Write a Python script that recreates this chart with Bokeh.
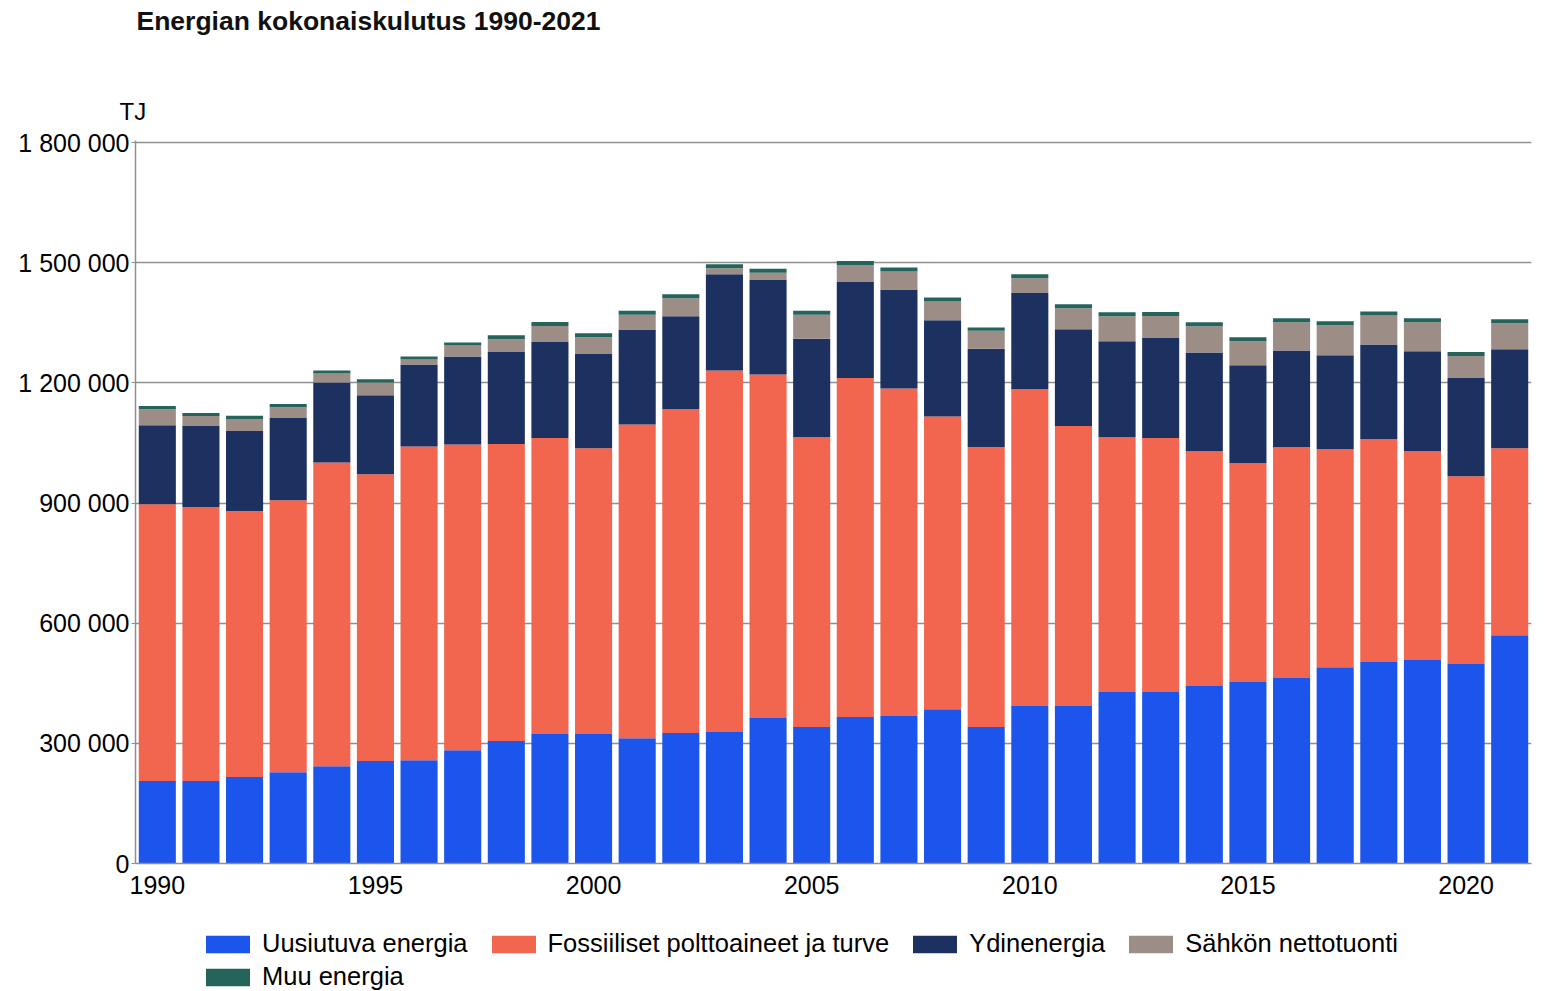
from bokeh.plotting import figure
from bokeh.layouts import column
from bokeh.models import ColumnDataSource, Range1d, FixedTicker, Legend, LegendItem, Label, Title
from bokeh.embed import file_html
from bokeh.resources import INLINE

years = list(range(1990, 2022))
# thousand TJ
uusiutuva = [206, 206, 216, 228, 243, 256, 258, 283, 306, 323, 323, 313, 326, 328, 363, 341,
             366, 368, 385, 341, 393, 393, 428, 428, 443, 453, 463, 490, 503, 508, 498, 570]
fossiiliset = [691, 684, 664, 679, 758, 716, 783, 763, 741, 739, 714, 783, 808, 903, 858, 724,
               846, 818, 731, 699, 791, 699, 636, 634, 586, 546, 576, 544, 556, 521, 469, 467]
ydinenergia = [197, 202, 200, 205, 200, 197, 205, 220, 230, 240, 235, 237, 232, 240, 237, 245,
               240, 247, 240, 245, 240, 242, 240, 250, 247, 245, 242, 235, 237, 250, 245, 247]
tuonti = [40, 25, 30, 27, 22, 32, 12, 27, 32, 40, 42, 37, 45, 15, 17, 60,
          42, 45, 47, 45, 37, 52, 62, 55, 65, 60, 70, 75, 72, 72, 55, 65]
muu = [8, 8, 8, 8, 8, 8, 8, 8, 10, 10, 10, 10, 10, 10, 10, 10,
       10, 10, 10, 8, 10, 10, 10, 10, 10, 10, 10, 10, 10, 10, 10, 10]

series_names = ["Uusiutuva energia", "Fossiiliset polttoaineet ja turve", "Ydinenergia",
                "Sähkön nettotuonti", "Muu energia"]
colors = ["#1B55EB", "#F2654E", "#1C3160", "#9C8E86", "#25645B"]

y_ticks = [0, 300000, 600000, 900000, 1200000, 1500000, 1800000]
y_tick_labels = ["0", "300 000", "600 000", "900 000", "1 200 000", "1 500 000", "1 800 000"]
x_ticks = [1990, 1995, 2000, 2005, 2010, 2015, 2020]
x_tick_labels = ["1990", "1995", "2000", "2005", "2010", "2015", "2020"]

keys = ["s0", "s1", "s2", "s3", "s4"]
data = {"year": years}
for k, vals in zip(keys, [uusiutuva, fossiiliset, ydinenergia, tuonti, muu]):
    data[k] = [v * 1000 for v in vals]
src = ColumnDataSource(data)

FONT = "Liberation Sans"
W = 1536


def blank_fig(h):
    f = figure(width=W, height=h, x_range=Range1d(0, 1), y_range=Range1d(0, 1), title=None,
               x_axis_type=None, y_axis_type=None, output_backend="svg", toolbar_location=None,
               min_border_left=0, min_border_right=0, min_border_top=0, min_border_bottom=0)
    f.outline_line_color = None
    f.xgrid.grid_line_color = None
    f.ygrid.grid_line_color = None
    return f


# ---- top: chart title ----
top = blank_fig(78)
top.add_layout(Label(x=1, y=58, x_units="screen", y_units="screen",
                     text="Energian kokonaiskulutus 1990-2021",
                     text_font="Liberation Sans", text_font_style="bold",
                     text_font_size="26.5px", text_color="#111111",
                     text_baseline="alphabetic", text_align="left"))

# ---- main chart ----
# frame is 723 px tall; the range end leaves the 1 800 000 grid line 2 px below the frame top
p = figure(width=W, height=827, x_range=Range1d(1989.5, 2021.5), y_range=Range1d(0, 1805000),
           output_backend="svg", toolbar_location=None, title=None,
           min_border_left=135, min_border_right=5, min_border_top=62, min_border_bottom=42)
p.outline_line_color = None

rs = p.vbar_stack(keys, x="year", width=0.85, source=src, fill_color=colors, line_color=None)

p.add_layout(Title(text="TJ", align="left", offset=-16, standoff=31,
                   text_font=FONT, text_font_size="24px", text_font_style="normal",
                   text_color="#000000"), "above")

p.xgrid.grid_line_color = None
p.ygrid.grid_line_color = "#8f8f8f"
p.ygrid.grid_line_width = 1.5
p.ygrid.ticker = FixedTicker(ticks=y_ticks)

p.yaxis.ticker = FixedTicker(ticks=y_ticks)
p.yaxis.major_label_overrides = dict(zip(y_ticks, y_tick_labels))
p.yaxis.axis_line_color = "#8f8f8f"
p.yaxis.axis_line_width = 1.5
p.yaxis.major_tick_line_color = "#8f8f8f"
p.yaxis.major_tick_out = 4
p.yaxis.major_tick_in = 0
p.yaxis.minor_tick_line_color = None
p.yaxis.major_label_standoff = 2
p.yaxis.major_label_text_font = FONT
p.yaxis.major_label_text_font_size = "25px"
p.yaxis.major_label_text_color = "#000000"

p.xaxis.ticker = FixedTicker(ticks=x_ticks)
p.xaxis.major_label_overrides = dict(zip(x_ticks, x_tick_labels))
p.xaxis.axis_line_color = "#8f8f8f"
p.xaxis.axis_line_width = 1.5
p.xaxis.major_tick_line_color = None
p.xaxis.minor_tick_line_color = None
p.xaxis.major_tick_out = 0
p.xaxis.major_tick_in = 0
p.xaxis.major_label_standoff = 12
p.xaxis.major_label_text_font = FONT
p.xaxis.major_label_text_font_size = "25px"
p.xaxis.major_label_text_color = "#000000"

# ---- legend ----
lg = blank_fig(86)
proxies = [lg.vbar(x=[0.5], top=[0], bottom=[0], width=0, fill_color=c, line_color=None)
           for c in colors]
items = [LegendItem(label=n, renderers=[r]) for n, r in zip(series_names, proxies)]
common = dict(orientation="horizontal", spacing=18, glyph_width=55, glyph_height=22,
              label_standoff=7, padding=0, margin=0, border_line_color=None,
              background_fill_alpha=0, label_text_font=FONT, label_text_font_size="25.5px",
              label_text_color="#000000")
lg.add_layout(Legend(items=items[:4], location=(65, 33), **common))
lg.add_layout(Legend(items=items[4:], location=(65, 0), **common))

layout = column(top, p, lg, spacing=0)
open("out.html", "w").write(file_html(layout, INLINE))
